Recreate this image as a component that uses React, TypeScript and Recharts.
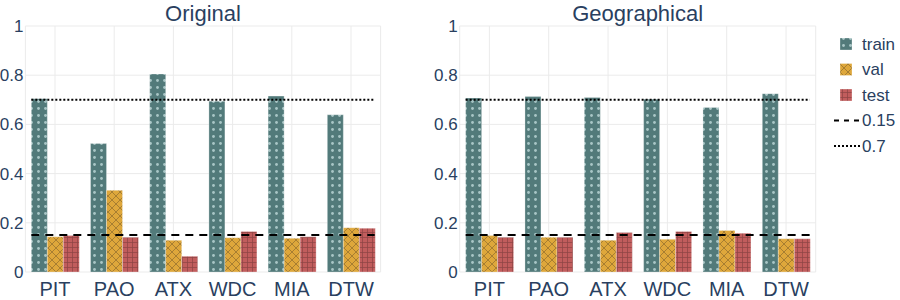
import React from 'react';
import { BarChart, Bar, XAxis, YAxis, CartesianGrid, ReferenceLine } from 'recharts';

const categories = ['PIT', 'PAO', 'ATX', 'WDC', 'MIA', 'DTW'];
const origTrain = [0.704, 0.522, 0.805, 0.694, 0.715, 0.639];
const origVal = [0.143, 0.332, 0.129, 0.139, 0.137, 0.18];
const origTest = [0.148, 0.141, 0.064, 0.165, 0.143, 0.178];
const geoTrain = [0.707, 0.713, 0.709, 0.702, 0.669, 0.725];
const geoVal = [0.148, 0.141, 0.129, 0.133, 0.169, 0.135];
const geoTest = [0.141, 0.141, 0.161, 0.165, 0.158, 0.135];
const lowThreshold = 0.15;
const highThreshold = 0.7;
const yTicks = [0, 0.2, 0.4, 0.6, 0.8, 1];
const seriesNames = ['train', 'val', 'test'];
const lineNames = ['0.15', '0.7'];

const FONT = '"Liberation Sans", Arial, sans-serif';
const TEXT = '#2a3f5f';
const GRID = '#ebebeb';
const C_TRAIN = '#527a7a';
const C_TRAIN_DOT = '#a9c6c6';
const C_VAL = '#dea73b';
const C_VAL_LINE = '#8f6d2c';
const C_TEST = '#c15d5d';
const C_TEST_LINE = '#8c4444';

const build = (train: number[], val: number[], test: number[]) =>
  categories.map((c, i) => ({ cat: c, train: train[i], val: val[i], test: test[i] }));

const origData = build(origTrain, origVal, origTest);
const geoData = build(geoTrain, geoVal, geoTest);

const fmt = (v: number) => (v === 0 ? '0' : v === 1 ? '1' : String(v));

const Patterns = ({ p }: { p: string }) => (
  <defs>
    <pattern id={`${p}-train`} width={7} height={7} patternUnits="userSpaceOnUse">
      <rect width={7} height={7} fill={C_TRAIN} />
      <circle cx={3.5} cy={3.5} r={1.4} fill={C_TRAIN_DOT} />
    </pattern>
    <pattern id={`${p}-val`} width={8} height={8} patternUnits="userSpaceOnUse">
      <rect width={8} height={8} fill={C_VAL} />
      <path d="M0,0 L8,8 M8,0 L0,8" stroke={C_VAL_LINE} strokeWidth={0.7} />
    </pattern>
    <pattern id={`${p}-test`} width={5} height={5} patternUnits="userSpaceOnUse">
      <rect width={5} height={5} fill={C_TEST} />
      <path d="M0,2.5 H5 M2.5,0 V5" stroke={C_TEST_LINE} strokeWidth={0.7} />
    </pattern>
  </defs>
);

const makeShape = (dash: string) => (props: any) => {
  const { x1, x2, y1, y2 } = props;
  const inset = ((x2 - x1) / categories.length) * 0.1;
  return (
    <line
      x1={x1 + inset}
      x2={x2 - inset}
      y1={y1}
      y2={y2}
      stroke="#000000"
      strokeWidth={2}
      strokeDasharray={dash}
    />
  );
};
const dashShape = makeShape('8,6');
const dotShape = makeShape('2,2');

interface PanelProps {
  data: any[];
  title: string;
  p: string;
  left: number;
  yAxisWidth: number;
  rightMargin: number;
}

const Panel = ({ data, title, p, left, yAxisWidth, rightMargin }: PanelProps) => {
  const width = 420;
  const plotLeft = yAxisWidth;
  const plotRight = width - rightMargin;
  const cx = (plotLeft + plotRight) / 2;
  return (
    <div style={{ position: 'absolute', left, top: 0 }}>
      <BarChart
        width={width}
        height={300}
        data={data}
        margin={{ top: 26, bottom: 0, left: 0, right: rightMargin }}
        barCategoryGap="10%"
        barGap={0}
      >
        <Patterns p={p} />
        <CartesianGrid stroke={GRID} strokeWidth={1} />
        <XAxis
          dataKey="cat"
          axisLine={false}
          tickLine={false}
          tickSize={0}
          tickMargin={10}
          height={28}
          interval={0}
          tick={{ fill: TEXT, fontSize: 20, fontFamily: FONT }}
        />
        <YAxis
          domain={[0, 1]}
          ticks={yTicks}
          tickFormatter={fmt}
          width={yAxisWidth}
          axisLine={false}
          tickLine={false}
          tickSize={0}
          tickMargin={2}
          tick={{ fill: TEXT, fontSize: 17, fontFamily: FONT }}
          allowDataOverflow
        />
        <Bar dataKey="train" fill={`url(#${p}-train)`} stroke="#ffffff" strokeOpacity={0.6} strokeWidth={0.5} isAnimationActive={false} />
        <Bar dataKey="val" fill={`url(#${p}-val)`} stroke="#ffffff" strokeOpacity={0.6} strokeWidth={0.5} isAnimationActive={false} />
        <Bar dataKey="test" fill={`url(#${p}-test)`} stroke="#ffffff" strokeOpacity={0.6} strokeWidth={0.5} isAnimationActive={false} />
        <ReferenceLine y={lowThreshold} shape={dashShape} />
        <ReferenceLine y={highThreshold} shape={dotShape} />
        <text x={cx} y={21} textAnchor="middle" fill={TEXT} fontSize={22} fontFamily={FONT}>
          {title}
        </text>
      </BarChart>
    </div>
  );
};

const Legend = () => {
  const rows = [44, 69.5, 95, 120.5, 146];
  const sym = 846;
  const tx = 862;
  return (
    <svg width={70} height={170} style={{ position: 'absolute', left: 830, top: 0 }}>
      <Patterns p="lg" />
      <g transform="translate(-830,0)">
        <rect x={sym - 6} y={rows[0] - 6} width={12} height={12} fill="url(#lg-train)" stroke="#fff" strokeOpacity={0.6} strokeWidth={0.5} />
        <rect x={sym - 6} y={rows[1] - 6} width={12} height={12} fill="url(#lg-val)" stroke="#fff" strokeOpacity={0.6} strokeWidth={0.5} />
        <rect x={sym - 6} y={rows[2] - 6} width={12} height={12} fill="url(#lg-test)" stroke="#fff" strokeOpacity={0.6} strokeWidth={0.5} />
        <line x1={834} x2={860} y1={rows[3]} y2={rows[3]} stroke="#000" strokeWidth={2} strokeDasharray="5,5" />
        <line x1={834} x2={860} y1={rows[4]} y2={rows[4]} stroke="#000" strokeWidth={2} strokeDasharray="2,2" />
        {[...seriesNames, ...lineNames].map((n, i) => (
          <text key={n} x={tx} y={rows[i]} dy="0.35em" fill={TEXT} fontSize={17} fontFamily={FONT}>
            {n}
          </text>
        ))}
      </g>
    </svg>
  );
};

export default function App() {
  return (
    <div style={{ position: 'absolute', left: 0, top: 0, width: 900, height: 300, background: '#fff', fontFamily: FONT }}>
      <Panel data={origData} title="Original" p="o" left={0} yAxisWidth={25.4} rightMargin={39.4} />
      <Panel data={geoData} title="Geographical" p="g" left={420} yAxisWidth={39.7} rightMargin={24.3} />
      <Legend />
    </div>
  );
}
